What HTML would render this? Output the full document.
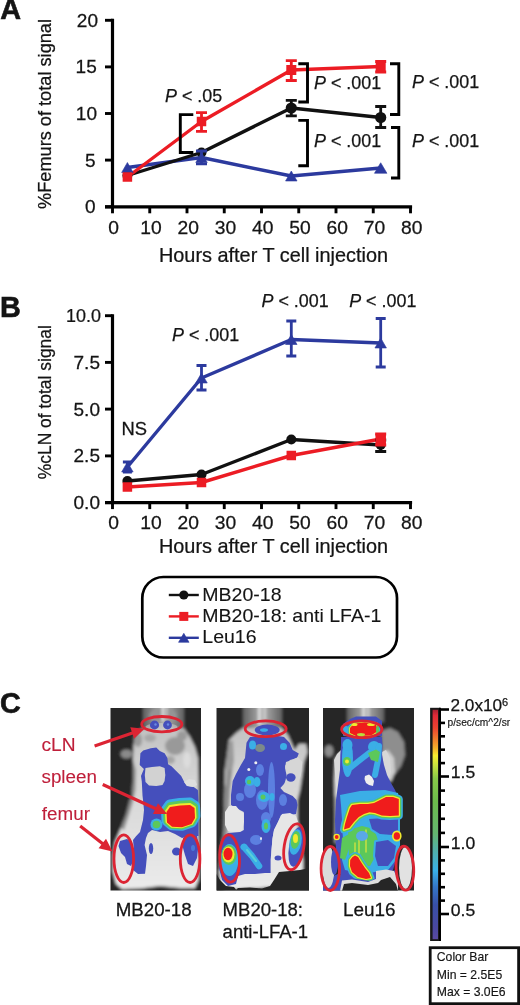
<!DOCTYPE html>
<html><head><meta charset="utf-8"><style>
html,body{margin:0;padding:0;background:#fff;}
svg{display:block;filter:blur(0.35px);}
text{font-family:"Liberation Sans",sans-serif;}
</style></head><body>
<svg width="520" height="1005" viewBox="0 0 520 1005">
<rect width="520" height="1005" fill="#fff"/>
<text x="0.2" y="19.4" font-size="28.8" font-weight="bold" fill="#141414" stroke="#141414" stroke-width="0.6">A</text>
<line x1="112.5" y1="18.8" x2="112.5" y2="208.3" stroke="#000" stroke-width="3.2"/>
<line x1="105" y1="206.8" x2="412.1" y2="206.8" stroke="#000" stroke-width="3.2"/>
<line x1="105" y1="20.3" x2="112.5" y2="20.3" stroke="#000" stroke-width="2.9"/>
<text x="98" y="26.8" font-size="18.5" fill="#141414" stroke="#141414" stroke-width="0.25" text-anchor="end" transform="matrix(1.03,0,0,1,-2.940,0)" >20</text>
<line x1="105" y1="66.9" x2="112.5" y2="66.9" stroke="#000" stroke-width="2.9"/>
<text x="96.8" y="73.4" font-size="18.5" fill="#141414" stroke="#141414" stroke-width="0.25" text-anchor="end" transform="matrix(1.03,0,0,1,-2.904,0)" >15</text>
<line x1="105" y1="113.5" x2="112.5" y2="113.5" stroke="#000" stroke-width="2.9"/>
<text x="97" y="120.0" font-size="18.5" fill="#141414" stroke="#141414" stroke-width="0.25" text-anchor="end" transform="matrix(1.03,0,0,1,-2.910,0)" >10</text>
<line x1="105" y1="160.1" x2="112.5" y2="160.1" stroke="#000" stroke-width="2.9"/>
<text x="95.7" y="166.6" font-size="18.5" fill="#141414" stroke="#141414" stroke-width="0.25" text-anchor="end" transform="matrix(1.03,0,0,1,-2.871,0)" >5</text>
<line x1="105" y1="206.8" x2="112.5" y2="206.8" stroke="#000" stroke-width="2.9"/>
<text x="95.7" y="213.3" font-size="18.5" fill="#141414" stroke="#141414" stroke-width="0.25" text-anchor="end" transform="matrix(1.03,0,0,1,-2.871,0)" >0</text>
<line x1="112.5" y1="206.8" x2="112.5" y2="213.3" stroke="#000" stroke-width="2.9"/>
<text x="113.7" y="234" font-size="18.2" fill="#141414" stroke="#141414" stroke-width="0.25" text-anchor="middle" transform="matrix(1.06,0,0,1,-6.822,0)" >0</text>
<line x1="149.75" y1="206.8" x2="149.75" y2="213.3" stroke="#000" stroke-width="2.9"/>
<text x="150.95" y="234" font-size="18.2" fill="#141414" stroke="#141414" stroke-width="0.25" text-anchor="middle" transform="matrix(1.06,0,0,1,-9.057,0)" >10</text>
<line x1="187.0" y1="206.8" x2="187.0" y2="213.3" stroke="#000" stroke-width="2.9"/>
<text x="188.2" y="234" font-size="18.2" fill="#141414" stroke="#141414" stroke-width="0.25" text-anchor="middle" transform="matrix(1.06,0,0,1,-11.292,0)" >20</text>
<line x1="224.25" y1="206.8" x2="224.25" y2="213.3" stroke="#000" stroke-width="2.9"/>
<text x="225.45" y="234" font-size="18.2" fill="#141414" stroke="#141414" stroke-width="0.25" text-anchor="middle" transform="matrix(1.06,0,0,1,-13.527,0)" >30</text>
<line x1="261.5" y1="206.8" x2="261.5" y2="213.3" stroke="#000" stroke-width="2.9"/>
<text x="262.7" y="234" font-size="18.2" fill="#141414" stroke="#141414" stroke-width="0.25" text-anchor="middle" transform="matrix(1.06,0,0,1,-15.762,0)" >40</text>
<line x1="298.75" y1="206.8" x2="298.75" y2="213.3" stroke="#000" stroke-width="2.9"/>
<text x="299.95" y="234" font-size="18.2" fill="#141414" stroke="#141414" stroke-width="0.25" text-anchor="middle" transform="matrix(1.06,0,0,1,-17.997,0)" >50</text>
<line x1="336.0" y1="206.8" x2="336.0" y2="213.3" stroke="#000" stroke-width="2.9"/>
<text x="337.2" y="234" font-size="18.2" fill="#141414" stroke="#141414" stroke-width="0.25" text-anchor="middle" transform="matrix(1.06,0,0,1,-20.232,0)" >60</text>
<line x1="373.25" y1="206.8" x2="373.25" y2="213.3" stroke="#000" stroke-width="2.9"/>
<text x="374.45" y="234" font-size="18.2" fill="#141414" stroke="#141414" stroke-width="0.25" text-anchor="middle" transform="matrix(1.06,0,0,1,-22.467,0)" >70</text>
<line x1="410.5" y1="206.8" x2="410.5" y2="213.3" stroke="#000" stroke-width="2.9"/>
<text x="411.7" y="234" font-size="18.2" fill="#141414" stroke="#141414" stroke-width="0.25" text-anchor="middle" transform="matrix(1.06,0,0,1,-24.702,0)" >80</text>
<text x="273.5" y="262" font-size="19.6" fill="#141414" stroke="#141414" stroke-width="0.25" text-anchor="middle" transform="matrix(1.015,0,0,1,-4.102,0)" >Hours after T cell injection</text>
<text transform="translate(50.9,114) rotate(-90)" font-size="18.2" fill="#141414" stroke="#141414" stroke-width="0.25" text-anchor="middle">%Femurs of total signal</text>
<path d="M127.4,167.5 L201.5,157.5 L291.3,176 L380.7,168" stroke="#2c3a9e" stroke-width="3.4" fill="none" stroke-linejoin="round"/>
<path d="M127.4,175.5 L201.5,152.5 L291.3,108 L380.7,117.5" stroke="#111" stroke-width="3.4" fill="none" stroke-linejoin="round"/>
<path d="M127.4,177 L201.5,121.5 L291.3,70 L380.7,66.5" stroke="#ec1c24" stroke-width="3.4" fill="none" stroke-linejoin="round"/>
<path d="M291.3,100.3 V115.8 M285.8,100.3 H296.8 M285.8,115.8 H296.8" stroke="#111" stroke-width="2.8" fill="none"/>
<path d="M380.7,106.5 V127.5 M375.2,106.5 H386.2 M375.2,127.5 H386.2" stroke="#111" stroke-width="2.8" fill="none"/>
<circle cx="127.4" cy="175.5" r="5" fill="#111"/>
<circle cx="201.5" cy="152.5" r="5" fill="#111"/>
<circle cx="291.3" cy="108" r="5.6" fill="#111"/>
<circle cx="380.7" cy="117.5" r="5.6" fill="#111"/>
<path d="M201.5,151 V163.8 M196.0,151 H207.0 M196.0,163.8 H207.0" stroke="#2c3a9e" stroke-width="2.8" fill="none"/>
<path d="M121.65,172.5 L133.15,172.5 L127.4,162.5 Z" fill="#2c3a9e" stroke="#2c3a9e" stroke-width="0.6" stroke-linejoin="round"/>
<path d="M195.75,162.5 L207.25,162.5 L201.5,152.5 Z" fill="#2c3a9e" stroke="#2c3a9e" stroke-width="0.6" stroke-linejoin="round"/>
<path d="M285.55,181.0 L297.05,181.0 L291.3,171.0 Z" fill="#2c3a9e" stroke="#2c3a9e" stroke-width="0.6" stroke-linejoin="round"/>
<path d="M374.45,173.25 L386.95,173.25 L380.7,162.75 Z" fill="#2c3a9e" stroke="#2c3a9e" stroke-width="0.6" stroke-linejoin="round"/>
<path d="M201.5,112.7 V131.4 M196.0,112.7 H207.0 M196.0,131.4 H207.0" stroke="#ec1c24" stroke-width="2.8" fill="none"/>
<path d="M291.3,60.7 V80.5 M285.8,60.7 H296.8 M285.8,80.5 H296.8" stroke="#ec1c24" stroke-width="2.8" fill="none"/>
<path d="M380.7,61.5 V72 M375.2,61.5 H386.2 M375.2,72 H386.2" stroke="#ec1c24" stroke-width="2.8" fill="none"/>
<rect x="122.65" y="172.25" width="9.5" height="9.5" fill="#ec1c24"/>
<rect x="196.75" y="116.75" width="9.5" height="9.5" fill="#ec1c24"/>
<rect x="286.3" y="65.0" width="10" height="10" fill="#ec1c24"/>
<rect x="375.7" y="61.5" width="10" height="10" fill="#ec1c24"/>
<path d="M193.3,114.6 H180.3 V152.5 H193.3" stroke="#000" stroke-width="2.9" fill="none"/>
<path d="M298.3,63.8 H307.5 V102 H298.3" stroke="#000" stroke-width="2.9" fill="none"/>
<path d="M298.3,120.4 H307.5 V165.8 H298.3" stroke="#000" stroke-width="2.9" fill="none"/>
<path d="M390,63.8 H398.8 V114.5 H390" stroke="#000" stroke-width="2.9" fill="none"/>
<path d="M391,127.5 H398.8 V178 H391" stroke="#000" stroke-width="2.9" fill="none"/>
<text x="165" y="101.5" font-size="17.9" fill="#141414" stroke="#141414" stroke-width="0.25"><tspan font-style="italic">P</tspan> &lt; .05</text>
<text x="314" y="88.5" font-size="17.9" fill="#141414" stroke="#141414" stroke-width="0.25"><tspan font-style="italic">P</tspan> &lt; .001</text>
<text x="314" y="146.5" font-size="17.9" fill="#141414" stroke="#141414" stroke-width="0.25"><tspan font-style="italic">P</tspan> &lt; .001</text>
<text x="412" y="88" font-size="17.9" fill="#141414" stroke="#141414" stroke-width="0.25"><tspan font-style="italic">P</tspan> &lt; .001</text>
<text x="412" y="147" font-size="17.9" fill="#141414" stroke="#141414" stroke-width="0.25"><tspan font-style="italic">P</tspan> &lt; .001</text>
<text x="0" y="317.1" font-size="28.8" font-weight="bold" fill="#141414" stroke="#141414" stroke-width="0.6">B</text>
<line x1="112.5" y1="314.2" x2="112.5" y2="504.1" stroke="#000" stroke-width="3.2"/>
<line x1="105" y1="502.6" x2="412.1" y2="502.6" stroke="#000" stroke-width="3.2"/>
<line x1="105" y1="315.7" x2="112.5" y2="315.7" stroke="#000" stroke-width="2.9"/>
<text x="101" y="322.2" font-size="18.5" fill="#141414" stroke="#141414" stroke-width="0.25" text-anchor="end" transform="matrix(0.97,0,0,1,3.030,0)" >10.0</text>
<line x1="105" y1="362.4" x2="112.5" y2="362.4" stroke="#000" stroke-width="2.9"/>
<text x="100" y="368.9" font-size="18.5" fill="#141414" stroke="#141414" stroke-width="0.25" text-anchor="end" transform="matrix(1.03,0,0,1,-3.000,0)" >7.5</text>
<line x1="105" y1="409.1" x2="112.5" y2="409.1" stroke="#000" stroke-width="2.9"/>
<text x="100" y="415.6" font-size="18.5" fill="#141414" stroke="#141414" stroke-width="0.25" text-anchor="end" transform="matrix(1.03,0,0,1,-3.000,0)" >5.0</text>
<line x1="105" y1="455.9" x2="112.5" y2="455.9" stroke="#000" stroke-width="2.9"/>
<text x="100" y="462.4" font-size="18.5" fill="#141414" stroke="#141414" stroke-width="0.25" text-anchor="end" transform="matrix(1.03,0,0,1,-3.000,0)" >2.5</text>
<line x1="105" y1="502.6" x2="112.5" y2="502.6" stroke="#000" stroke-width="2.9"/>
<text x="100" y="509.1" font-size="18.5" fill="#141414" stroke="#141414" stroke-width="0.25" text-anchor="end" transform="matrix(1.03,0,0,1,-3.000,0)" >0.0</text>
<line x1="112.5" y1="502.6" x2="112.5" y2="509.1" stroke="#000" stroke-width="2.9"/>
<text x="113.7" y="529.3" font-size="18.2" fill="#141414" stroke="#141414" stroke-width="0.25" text-anchor="middle" transform="matrix(1.06,0,0,1,-6.822,0)" >0</text>
<line x1="149.75" y1="502.6" x2="149.75" y2="509.1" stroke="#000" stroke-width="2.9"/>
<text x="150.95" y="529.3" font-size="18.2" fill="#141414" stroke="#141414" stroke-width="0.25" text-anchor="middle" transform="matrix(1.06,0,0,1,-9.057,0)" >10</text>
<line x1="187.0" y1="502.6" x2="187.0" y2="509.1" stroke="#000" stroke-width="2.9"/>
<text x="188.2" y="529.3" font-size="18.2" fill="#141414" stroke="#141414" stroke-width="0.25" text-anchor="middle" transform="matrix(1.06,0,0,1,-11.292,0)" >20</text>
<line x1="224.25" y1="502.6" x2="224.25" y2="509.1" stroke="#000" stroke-width="2.9"/>
<text x="225.45" y="529.3" font-size="18.2" fill="#141414" stroke="#141414" stroke-width="0.25" text-anchor="middle" transform="matrix(1.06,0,0,1,-13.527,0)" >30</text>
<line x1="261.5" y1="502.6" x2="261.5" y2="509.1" stroke="#000" stroke-width="2.9"/>
<text x="262.7" y="529.3" font-size="18.2" fill="#141414" stroke="#141414" stroke-width="0.25" text-anchor="middle" transform="matrix(1.06,0,0,1,-15.762,0)" >40</text>
<line x1="298.75" y1="502.6" x2="298.75" y2="509.1" stroke="#000" stroke-width="2.9"/>
<text x="299.95" y="529.3" font-size="18.2" fill="#141414" stroke="#141414" stroke-width="0.25" text-anchor="middle" transform="matrix(1.06,0,0,1,-17.997,0)" >50</text>
<line x1="336.0" y1="502.6" x2="336.0" y2="509.1" stroke="#000" stroke-width="2.9"/>
<text x="337.2" y="529.3" font-size="18.2" fill="#141414" stroke="#141414" stroke-width="0.25" text-anchor="middle" transform="matrix(1.06,0,0,1,-20.232,0)" >60</text>
<line x1="373.25" y1="502.6" x2="373.25" y2="509.1" stroke="#000" stroke-width="2.9"/>
<text x="374.45" y="529.3" font-size="18.2" fill="#141414" stroke="#141414" stroke-width="0.25" text-anchor="middle" transform="matrix(1.06,0,0,1,-22.467,0)" >70</text>
<line x1="410.5" y1="502.6" x2="410.5" y2="509.1" stroke="#000" stroke-width="2.9"/>
<text x="411.7" y="529.3" font-size="18.2" fill="#141414" stroke="#141414" stroke-width="0.25" text-anchor="middle" transform="matrix(1.06,0,0,1,-24.702,0)" >80</text>
<text x="273.5" y="553.1" font-size="19.6" fill="#141414" stroke="#141414" stroke-width="0.25" text-anchor="middle" transform="matrix(1.015,0,0,1,-4.102,0)" >Hours after T cell injection</text>
<text transform="translate(50.9,402.2) rotate(-90)" font-size="17.45" fill="#141414" stroke="#141414" stroke-width="0.25" text-anchor="middle">%cLN of total signal</text>
<path d="M127.4,481 L201.5,474.5 L291.3,439.5 L380.7,445" stroke="#111" stroke-width="3.4" fill="none" stroke-linejoin="round"/>
<path d="M127.4,487 L201.5,482.5 L291.3,455.5 L380.7,439" stroke="#ec1c24" stroke-width="3.4" fill="none" stroke-linejoin="round"/>
<path d="M127.4,467 L201.5,378 L291.3,339.5 L380.7,343" stroke="#2c3a9e" stroke-width="3.4" fill="none" stroke-linejoin="round"/>
<path d="M380.7,440 V451.5 M375.2,440 H386.2 M375.2,451.5 H386.2" stroke="#111" stroke-width="2.8" fill="none"/>
<circle cx="127.4" cy="481" r="5" fill="#111"/>
<circle cx="201.5" cy="474.5" r="5" fill="#111"/>
<circle cx="291.3" cy="439.5" r="5" fill="#111"/>
<circle cx="380.7" cy="445" r="5" fill="#111"/>
<path d="M380.7,434 V445 M375.2,434 H386.2 M375.2,445 H386.2" stroke="#ec1c24" stroke-width="2.8" fill="none"/>
<rect x="122.65" y="482.25" width="9.5" height="9.5" fill="#ec1c24"/>
<rect x="196.75" y="477.75" width="9.5" height="9.5" fill="#ec1c24"/>
<rect x="286.55" y="450.75" width="9.5" height="9.5" fill="#ec1c24"/>
<rect x="375.45" y="433.75" width="10.5" height="10.5" fill="#ec1c24"/>
<path d="M127.4,462 V472 M122.9,462 H131.9 M122.9,472 H131.9" stroke="#2c3a9e" stroke-width="2.8" fill="none"/>
<path d="M201.5,365.5 V390 M196.5,365.5 H206.5 M196.5,390 H206.5" stroke="#2c3a9e" stroke-width="2.8" fill="none"/>
<path d="M291.3,321 V356 M286.3,321 H296.3 M286.3,356 H296.3" stroke="#2c3a9e" stroke-width="2.8" fill="none"/>
<path d="M380.7,318.5 V367 M375.7,318.5 H385.7 M375.7,367 H385.7" stroke="#2c3a9e" stroke-width="2.8" fill="none"/>
<path d="M121.65,472.0 L133.15,472.0 L127.4,462.0 Z" fill="#2c3a9e" stroke="#2c3a9e" stroke-width="0.6" stroke-linejoin="round"/>
<path d="M195.75,383.0 L207.25,383.0 L201.5,373.0 Z" fill="#2c3a9e" stroke="#2c3a9e" stroke-width="0.6" stroke-linejoin="round"/>
<path d="M285.55,344.5 L297.05,344.5 L291.3,334.5 Z" fill="#2c3a9e" stroke="#2c3a9e" stroke-width="0.6" stroke-linejoin="round"/>
<path d="M374.95,348.0 L386.45,348.0 L380.7,338.0 Z" fill="#2c3a9e" stroke="#2c3a9e" stroke-width="0.6" stroke-linejoin="round"/>
<text x="121.5" y="434.8" font-size="17.5" fill="#141414" stroke="#141414" stroke-width="0.25" transform="matrix(1.05,0,0,1,-6.075,0)" >NS</text>
<text x="172" y="340.8" font-size="17.9" fill="#141414" stroke="#141414" stroke-width="0.25"><tspan font-style="italic">P</tspan> &lt; .001</text>
<text x="261.5" y="307.2" font-size="17.9" fill="#141414" stroke="#141414" stroke-width="0.25"><tspan font-style="italic">P</tspan> &lt; .001</text>
<text x="349.2" y="307.2" font-size="17.9" fill="#141414" stroke="#141414" stroke-width="0.25"><tspan font-style="italic">P</tspan> &lt; .001</text>
<rect x="142.3" y="577" width="254.7" height="80.5" rx="21" ry="21" fill="none" stroke="#000" stroke-width="2.7"/>
<line x1="168.8" y1="595.0" x2="198.8" y2="595.0" stroke="#111" stroke-width="2.4"/>
<circle cx="183.8" cy="595.0" r="4.6" fill="#111"/>
<text x="202.3" y="600.6" font-size="18.6" fill="#141414" stroke="#141414" stroke-width="0.1" transform="matrix(1.05,0,0,1,-10.115,0)" >MB20-18</text>
<line x1="168.8" y1="616.4" x2="198.8" y2="616.4" stroke="#ec1c24" stroke-width="2.4"/>
<rect x="179.3" y="611.9" width="9" height="9" fill="#ec1c24"/>
<text x="202.3" y="622.0" font-size="18.6" fill="#141414" stroke="#141414" stroke-width="0.1" transform="matrix(1.05,0,0,1,-10.115,0)" >MB20-18: anti LFA-1</text>
<line x1="168.8" y1="637.8" x2="198.8" y2="637.8" stroke="#2c3a9e" stroke-width="2.4"/>
<path d="M178.55,642.3 L189.05,642.3 L183.8,633.3 Z" fill="#2c3a9e" stroke="#2c3a9e" stroke-width="0.6" stroke-linejoin="round"/>
<text x="202.3" y="643.4" font-size="18.6" fill="#141414" stroke="#141414" stroke-width="0.1" transform="matrix(1.05,0,0,1,-10.115,0)" >Leu16</text>
<text x="0" y="712.5" font-size="28.8" font-weight="bold" fill="#141414" stroke="#141414" stroke-width="0.6">C</text>
<text x="41.5" y="751.4" font-size="17.6" fill="#bf1f3a" stroke="#bf1f3a" stroke-width="0.1" transform="matrix(1.09,0,0,1,-3.735,0)" >cLN</text>
<text x="41.5" y="783.4" font-size="17.6" fill="#bf1f3a" stroke="#bf1f3a" stroke-width="0.1" transform="matrix(1.07,0,0,1,-2.905,0)" >spleen</text>
<text x="41.8" y="819.6" font-size="17.6" fill="#bf1f3a" stroke="#bf1f3a" stroke-width="0.1" transform="matrix(1.07,0,0,1,-2.926,0)" >femur</text>
<clipPath id="c0"><rect x="110.5" y="708" width="90.5" height="182.5"/></clipPath>
<clipPath id="c1"><rect x="216.5" y="708" width="92.5" height="182.5"/></clipPath>
<clipPath id="c2"><rect x="323" y="708" width="91" height="182.5"/></clipPath>
<filter id="bl" x="-5%" y="-5%" width="110%" height="110%"><feGaussianBlur stdDeviation="0.7"/></filter>
<filter id="blb" x="-5%" y="-5%" width="110%" height="110%"><feGaussianBlur stdDeviation="1.4"/></filter>
<clipPath id="call"><rect x="110.5" y="708" width="90.5" height="182.5"/><rect x="216.5" y="708" width="92.5" height="182.5"/><rect x="323" y="708" width="91" height="182.5"/></clipPath>
<g clip-path="url(#call)"><g filter="url(#blb)"><defs><linearGradient id="bodyg" gradientUnits="userSpaceOnUse" x1="0" y1="728" x2="0" y2="890"><stop offset="0" stop-color="#c2c2c2"/><stop offset="0.35" stop-color="#d6d6d6"/><stop offset="1" stop-color="#ebebeb"/></linearGradient><linearGradient id="headg" x1="0" y1="0" x2="1" y2="0"><stop offset="0" stop-color="#606060"/><stop offset="0.5" stop-color="#b4b4b4"/><stop offset="1" stop-color="#606060"/></linearGradient></defs><rect x="105.5" y="703" width="100.5" height="192.5" fill="#252525" /><rect x="143" y="703" width="41" height="29" fill="url(#headg)" /><ellipse cx="163" cy="716" rx="14" ry="8" fill="#959595" /><rect x="162" y="703" width="1.8" height="19" fill="#f2f2f2" /><rect x="165.8" y="703" width="1.5" height="17" fill="#d8d8d8" /><path d="M141,729 L184,728.5 L190,737 L195,747 L198,758 L198.5,780 L198.5,830 L199.5,860 L198.5,880 L195,888 L180,888 L160,886 L140,888.5 L122,889 L116,884 L113,872 L113,855 L115,842 L120,830 L126,815 L130,800 L132,797 L133,780 L133,760 L133.5,745 L136,734 Z" fill="url(#bodyg)" /><path d="M133,760 L133,780 L132,797 L130,800 L126,815 L121,828 L124,830 L129,815 L133,802 L135.5,790 L136,770 Z" fill="#8d8d8d" /><ellipse cx="126.5" cy="754" rx="6" ry="4.5" fill="#8a8a8a" /><ellipse cx="175" cy="746" rx="10" ry="9" fill="#999" /><ellipse cx="182" cy="736" rx="5" ry="5" fill="#9a9a9a" /><ellipse cx="170" cy="760" rx="5" ry="4" fill="#a5a5a5" /><ellipse cx="138" cy="740" rx="4" ry="7" fill="#9a9a9a" /><ellipse cx="150" cy="738" rx="6" ry="4" fill="#a8a8a8" /><ellipse cx="187" cy="760" rx="4" ry="8" fill="#dcdcdc" /><ellipse cx="190" cy="800" rx="5" ry="12" fill="#e2e2e2" /><rect x="211.5" y="703" width="102.5" height="192.5" fill="#252525" /><rect x="243" y="703" width="39" height="27" fill="url(#headg)" /><rect x="258.3" y="703" width="2" height="22" fill="#f2f2f2" /><rect x="264" y="703" width="1.8" height="17" fill="#d8d8d8" /><path d="M243,728 L236,733 L229,740 L227,755 L225,770 L224.6,790 L224,810 L223.7,830 L221,850 L219,870 L220,884 L225,889 L240,889 L260,888 L280,886 L300,880 L303,872 L303,860 L300,840 L297.5,820 L297.5,800 L300,790 L302.3,775 L304,762 L307.6,752 L306,744 L299,744 L294.6,750 L288,735 L282,728 Z" fill="url(#bodyg)" /><path d="M229,742 L233,740 L234,760 L231,780 L229,800 L226,800 L226,770 L227,755 Z" fill="#9a9a9a" /><path d="M224.6,790 L224,810 L223.7,830 L221,850 L219,870 L222,870 L226,850 L228,830 L229,810 L230,790 L232,770 L229,770 Z" fill="#8a8a8a" /><rect x="318" y="703" width="101" height="192.5" fill="#252525" /><rect x="347" y="703" width="37" height="19" fill="url(#headg)" /><rect x="362.5" y="703" width="1.8" height="16" fill="#f2f2f2" /><rect x="367.5" y="703" width="1.6" height="16" fill="#d8d8d8" /><path d="M381,731 L390,728 L398,732 L404,742 L405,755 L401,766 L395,774 L388,776 L382,768 Z" fill="#8e8e8e" /><path d="M383,752 L388,750 L394,758 L395,772 L391,782 L385,778 Z" fill="#cfcfcf" /><ellipse cx="329" cy="751" rx="4.5" ry="6" fill="#8c8c8c" /><path d="M335,758 L341,752 L341,800 L337,843 L334.5,843 L335,820 L334.5,800 L334,780 Z" fill="#a8a8a8" /><path d="M336,760 L341,756 L341,790 L338,800 L335,795 L335,775 Z" fill="#dcdcdc" /></g><g filter="url(#bl)"><path d="M140.4,753.2 L143.2,750.4 L150.8,748.3 L156.3,747.6 L159.8,751.1 L164.6,753.2 L167.4,758 L168.1,764.2 L171.5,766.3 L175.7,770.5 L181.2,776 L184,781.6 L186.8,785.7 L193.7,787.1 L197.9,789.9 L198.5,800 L198.5,836 L190,836 L182,838 L175,834 L168,831 L160,832 L152,830 L148,833 L146,838 L144.6,845 L147,855 L146,866 L145,873.7 L138,874 L133,870 L132.9,860 L134,850 L133,840 L136,836.3 L140,832 L143,820 L144,810 L143,800 L142.5,795.4 L141.8,781.6 L141,776 L143.9,769 L139.7,765 Z" fill="#4550bc" /><path d="M145.5,768 L152,767 L159.8,766.3 L164.6,768 L165.3,775 L164.6,781 L162.5,785 L156.3,786 L149,785.5 L145.5,782 L144.8,775 Z" fill="#d2d2d2" /><path d="M184,782 L189,779 L195,780 L197,785 L193,787 L187,786 Z" fill="#dedede" /><path d="M120,841 L127,839 L132,842 L133.5,850 L133.5,860 L131,866 L127,864 L125,857 L121,853 L118.5,846 Z" fill="#4550bc" /><path d="M183,838 L190,835 L197,836 L198.5,845 L197,858 L193,866 L188,864 L185,855 L183,848 Z" fill="#4550bc" /><ellipse cx="193" cy="848" rx="2" ry="3" fill="#4a78d8" /><ellipse cx="176.5" cy="851.5" rx="4.5" ry="4" fill="#4550bc" /><ellipse cx="151" cy="848.5" rx="2.2" ry="5.5" fill="#4550bc" /><path d="M166.5,812 L170,807 L180,805.5 L190,805 L194.5,808 L195,818 L191.5,824 L182,827.2 L172,826.8 L167,822.5 Z" fill="#3aaee6" stroke="#3aaee6" stroke-width="11" stroke-linejoin="round" transform="translate(0,-2.00)"/><path d="M166.5,812 L170,807 L180,805.5 L190,805 L194.5,808 L195,818 L191.5,824 L182,827.2 L172,826.8 L167,822.5 Z" fill="#5cc85a" stroke="#5cc85a" stroke-width="7" stroke-linejoin="round" transform="translate(0,-1.27)"/><path d="M166.5,812 L170,807 L180,805.5 L190,805 L194.5,808 L195,818 L191.5,824 L182,827.2 L172,826.8 L167,822.5 Z" fill="#f2ea2e" stroke="#f2ea2e" stroke-width="3" stroke-linejoin="round" transform="translate(0,-0.55)"/><path d="M166.5,812 L170,807 L180,805.5 L190,805 L194.5,808 L195,818 L191.5,824 L182,827.2 L172,826.8 L167,822.5 Z" fill="#f01c1c"/><ellipse cx="156.5" cy="824.5" rx="6" ry="6" fill="#3aaee6" /><ellipse cx="156.5" cy="824.5" rx="3.8" ry="3.8" fill="#5cc85a" /><ellipse cx="161.5" cy="727" rx="16" ry="4" fill="#d8d8d8" opacity="0.5"/><ellipse cx="154.5" cy="725" rx="4.6" ry="4.4" fill="#4550bc" /><ellipse cx="167.5" cy="725" rx="4.4" ry="4.4" fill="#4550bc" /><ellipse cx="155.5" cy="724.5" rx="1.2" ry="1.2" fill="#6a8ae0" /><ellipse cx="168" cy="724.5" rx="1.2" ry="1.2" fill="#6a8ae0" /><path d="M246.5,742.7 L250,737 L262,735.5 L275,735.5 L284,737 L289.6,742.7 L292.7,750 L298.8,753.5 L297,758 L290,760 L285,766 L286.5,770 L288,775 L286,780 L284,784 L280.4,788 L284,792 L292.7,796 L296.5,800 L297.5,805 L296,814 L290,815 L281,815 L278,822 L274,830 L272.5,838.5 L271.5,850 L270.6,860 L270.6,873 L265,873 L255,874 L245,874 L238,876 L236,884 L228,886 L222,880 L219,868 L219,850 L222,838 L228,833 L240,832 L243.8,830 L243.8,812 L236,808 L231,805 L231,795 L232.7,781 L236,774 L240.4,765.8 L245,758 Z" fill="#4550bc" /><ellipse cx="267.2" cy="730" rx="12.5" ry="5.4" fill="#4550bc" /><ellipse cx="260" cy="748" rx="5" ry="4" fill="#7d8a8a" /><path d="M229,806 L236,806 L240,811 L243.8,813 L244,822 L242,831 L236,832 L228,831 L225,825 L225,812 Z" fill="#e6e6e6" /><path d="M282,814 L290,813 L296,816 L298,822 L290,826 L286,835 L284,845 L284,872 L271,873 L271.5,850 L272.5,838.5 L274,830 L278,822 Z" fill="#e6e6e6" /><path d="M286,762 L292,760 L298,757 L302.3,762 L301,775 L297,786 L292,790 L284,789 L286.5,775 L285,768 Z" fill="#d6d6d6" /><ellipse cx="290.8" cy="777.5" rx="4.8" ry="4.2" fill="#4550bc" /><ellipse cx="278" cy="858" rx="3.5" ry="2.5" fill="#4550bc" /><ellipse cx="271.5" cy="790" rx="3.5" ry="28" fill="#5b7fe0" /><ellipse cx="262" cy="800" rx="6" ry="10" fill="#5b7fe0" /><ellipse cx="250" cy="790" rx="6" ry="8" fill="#5b7fe0" /><ellipse cx="283" cy="800" rx="4" ry="6" fill="#5b7fe0" /><ellipse cx="260" cy="770" rx="4" ry="6" fill="#5b7fe0" /><ellipse cx="266" cy="818" rx="5" ry="6" fill="#5b7fe0" /><ellipse cx="256" cy="840" rx="6" ry="5" fill="#5b7fe0" /><ellipse cx="240" cy="797" rx="4" ry="4" fill="#5b7fe0" /><ellipse cx="252.5" cy="745" rx="3.5" ry="4.5" fill="#3aaee6" /><ellipse cx="283.5" cy="746.5" rx="3.5" ry="3.5" fill="#3aaee6" /><ellipse cx="264" cy="730" rx="4" ry="1.8" fill="#3aaee6" /><ellipse cx="257" cy="782" rx="3.5" ry="5" fill="#3aaee6" /><ellipse cx="250" cy="781" rx="5" ry="5" fill="#3aaee6" /><ellipse cx="264" cy="797" rx="6" ry="5" fill="#3aaee6" /><ellipse cx="266" cy="826" rx="4.5" ry="7" fill="#3aaee6" /><ellipse cx="244" cy="847" rx="3.5" ry="3" fill="#3aaee6" /><ellipse cx="272" cy="797" rx="2.5" ry="4" fill="#3aaee6" /><path d="M244,847 L252,856 L259,866" fill="none" stroke="#3aaee6" stroke-width="6.5" stroke-linecap="round" stroke-linejoin="round"/><path d="M247,850 L256,861" fill="none" stroke="#58d0d8" stroke-width="2" stroke-linecap="round" stroke-linejoin="round"/><ellipse cx="249" cy="782" rx="2.2" ry="2.2" fill="#5cc85a" /><ellipse cx="263" cy="797" rx="2.5" ry="2.5" fill="#5cc85a" /><ellipse cx="266" cy="826" rx="2" ry="3.5" fill="#5cc85a" /><ellipse cx="255.8" cy="762.7" rx="1.5" ry="1.5" fill="#f0f0f0" /><ellipse cx="248.8" cy="769.6" rx="1.5" ry="1.5" fill="#f0f0f0" /><ellipse cx="261" cy="838.5" rx="1" ry="1.5" fill="#f0f0f0" /><ellipse cx="229.5" cy="860" rx="9" ry="16" fill="#3aaee6" /><ellipse cx="229" cy="855" rx="7.5" ry="10" fill="#5cc85a" /><ellipse cx="228.5" cy="854.5" rx="6" ry="8" fill="#f2ea2e" /><ellipse cx="228" cy="854" rx="4.5" ry="6.2" fill="#f01c1c" /><ellipse cx="296.5" cy="847" rx="7.5" ry="20" fill="#4550bc" transform="rotate(10 296.5 847)"/><ellipse cx="295.5" cy="842" rx="6" ry="13" fill="#3aaee6" transform="rotate(10 295.5 842)"/><ellipse cx="295.5" cy="840" rx="4.5" ry="9" fill="#5cc85a" transform="rotate(10 295.5 840)"/><ellipse cx="295.5" cy="838.5" rx="2.5" ry="4.5" fill="#f2ea2e" /><path d="M279,872 L290,871 L300,870 L310,868 L310,891 L235,891 L238,888 L250,887.5 L262,888.5 L270,886 L274,880 Z" fill="#252525" /><path d="M216.5,874 L220,880 L226,886 L234,887 L237,891 L216.5,891 Z" fill="#252525" /><path d="M334,760 L337,754 L341,750 L341,800 L338.5,806 L337,800 L335.5,780 Z" fill="#dadada" /><path d="M382,752 L386,750 L390,758 L391,772 L388,782 L384,778 Z" fill="#d8d8d8" /><path d="M341,737 L382,737 L382.5,745 L382,755 L384,765 L387,775 L391,783 L395,790 L398,797 L400,805 L400,840 L398.5,845 L396,860 L393,870 L385,878 L370,881 L355,881 L342,878 L338,870 L336,850 L335.5,840 L335,820 L336,800 L338,785 L340,770 L340.3,755 L341,745 Z" fill="#4550bc" /><path d="M343,724 L350,719 L356,716.5 L376,716.5 L382,721 L382,736 L362,738.5 L343,736 Z" fill="#4550bc" /><ellipse cx="346" cy="731" rx="4" ry="5" fill="#3aaee6" /><path d="M350,728 L354,723.5 L365,722.5 L376,724.5 L378,731 L371,735.5 L356,736 L350,733 Z" fill="#3aaee6" stroke="#3aaee6" stroke-width="5" stroke-linejoin="round"/><path d="M350,728 L354,723.5 L365,722.5 L376,724.5 L378,731 L371,735.5 L356,736 L350,733 Z" fill="#5cc85a" stroke="#5cc85a" stroke-width="3" stroke-linejoin="round"/><path d="M350,728 L354,723.5 L365,722.5 L376,724.5 L378,731 L371,735.5 L356,736 L350,733 Z" fill="#f2ea2e" stroke="#f2ea2e" stroke-width="1.5" stroke-linejoin="round"/><path d="M350,728 L354,723.5 L365,722.5 L376,724.5 L378,731 L371,735.5 L356,736 L350,733 Z" fill="#f01c1c"/><ellipse cx="354.5" cy="724.5" rx="3" ry="1.6" fill="#f2ea2e" /><ellipse cx="371" cy="724.5" rx="4" ry="1.6" fill="#f2ea2e" /><ellipse cx="361" cy="734.5" rx="4" ry="1.5" fill="#b8e040" /><ellipse cx="377.5" cy="730" rx="1.5" ry="4" fill="#5cc85a" /><ellipse cx="347.5" cy="758" rx="5.5" ry="19" fill="#3aaee6" /><ellipse cx="347.5" cy="745" rx="5" ry="6" fill="#3aaee6" /><ellipse cx="374" cy="747" rx="6" ry="6" fill="#3aaee6" /><path d="M350,768 L360,760 L369,753" fill="none" stroke="#3aaee6" stroke-width="6" stroke-linecap="round" stroke-linejoin="round"/><path d="M379,746 L378,760 L375,775" fill="none" stroke="#3aaee6" stroke-width="6" stroke-linecap="round" stroke-linejoin="round"/><path d="M368,753 L376,749.5 L380,752 L378,762 L371,760 Z" fill="#5cc85a" /><ellipse cx="347" cy="761.4" rx="4" ry="4.5" fill="#5cc85a" /><ellipse cx="347" cy="761.4" rx="2" ry="2" fill="#f2ea2e" /><path d="M365,776 L369,774.5 L372,777 L374,781 L373,786 L369,785 L366,783 L364.5,779 Z" fill="#eeeeee" /><path d="M340,795 L360,791 L385,790 L398,793 L400,805 L400,845 L396,860 L388,870 L375,872 L365,874 L345,870 L342,860 L343,840 L342,820 L341,805 Z" fill="#3aaee6" /><path d="M348,830 L362,826 L374,829 L378,840 L376,855 L370,866 L356,866 L349,855 Z" fill="#5cc85a" /><path d="M376,842 L388,840 L396,846 L394,858 L388,866 L378,866 L375,856 Z" fill="#3aaee6" stroke="#3aaee6" stroke-width="4" stroke-linejoin="round"/><path d="M376,842 L388,840 L396,846 L394,858 L388,866 L378,866 L375,856 Z" fill="#4550bc"/><path d="M342,838 L349,834 L350,846 L345,860 L340,858 Z" fill="#5cc85a" /><path d="M359,835 L359,858" fill="none" stroke="#c8e040" stroke-width="1.5" stroke-linecap="round" stroke-linejoin="round"/><path d="M366,830 L366,852" fill="none" stroke="#c8e040" stroke-width="1.5" stroke-linecap="round" stroke-linejoin="round"/><path d="M355,843 L355,860" fill="none" stroke="#c8e040" stroke-width="1.5" stroke-linecap="round" stroke-linejoin="round"/><path d="M369,819 L385,818 L398,817 L398,830 L392,835 L380,834 L372,829 Z" fill="#3aaee6" stroke="#3aaee6" stroke-width="4" stroke-linejoin="round"/><path d="M369,819 L385,818 L398,817 L398,830 L392,835 L380,834 L372,829 Z" fill="#4550bc"/><ellipse cx="362" cy="836" rx="6" ry="5" fill="#5aa8e8" /><path d="M344,829.5 L345,824 L347,817 L350,808 L352,805 L360,804 L368,804 L374,803 L380,800 L386,797 L393,797 L398.8,799 L398.8,815.4 L390,816 L381.8,815.4 L375,813 L369.5,812.3 L364,814 L358.8,817 L354,822 L349.5,827.7 Z" fill="#3aaee6" stroke="#3aaee6" stroke-width="8" stroke-linejoin="round"/><path d="M344,829.5 L345,824 L347,817 L350,808 L352,805 L360,804 L368,804 L374,803 L380,800 L386,797 L393,797 L398.8,799 L398.8,815.4 L390,816 L381.8,815.4 L375,813 L369.5,812.3 L364,814 L358.8,817 L354,822 L349.5,827.7 Z" fill="#5cc85a" stroke="#5cc85a" stroke-width="5" stroke-linejoin="round"/><path d="M344,829.5 L345,824 L347,817 L350,808 L352,805 L360,804 L368,804 L374,803 L380,800 L386,797 L393,797 L398.8,799 L398.8,815.4 L390,816 L381.8,815.4 L375,813 L369.5,812.3 L364,814 L358.8,817 L354,822 L349.5,827.7 Z" fill="#f2ea2e" stroke="#f2ea2e" stroke-width="2.5" stroke-linejoin="round"/><path d="M344,829.5 L345,824 L347,817 L350,808 L352,805 L360,804 L368,804 L374,803 L380,800 L386,797 L393,797 L398.8,799 L398.8,815.4 L390,816 L381.8,815.4 L375,813 L369.5,812.3 L364,814 L358.8,817 L354,822 L349.5,827.7 Z" fill="#f01c1c"/><ellipse cx="336.7" cy="837" rx="3.2" ry="3.2" fill="#f2ea2e" /><ellipse cx="336.7" cy="837" rx="1.9" ry="1.9" fill="#f01c1c" /><ellipse cx="396.8" cy="836" rx="4.8" ry="5.5" fill="#f2ea2e" /><ellipse cx="396.8" cy="836" rx="3.2" ry="3.8" fill="#f01c1c" /><path d="M352.5,857 L355,855.5 L358,857 L361,862 L365,868 L369,873 L371,878 L366,879 L358,877 L352,872 L350,866 L350.2,860 Z" fill="#3aaee6" stroke="#3aaee6" stroke-width="7" stroke-linejoin="round"/><path d="M352.5,857 L355,855.5 L358,857 L361,862 L365,868 L369,873 L371,878 L366,879 L358,877 L352,872 L350,866 L350.2,860 Z" fill="#5cc85a" stroke="#5cc85a" stroke-width="4.5" stroke-linejoin="round"/><path d="M352.5,857 L355,855.5 L358,857 L361,862 L365,868 L369,873 L371,878 L366,879 L358,877 L352,872 L350,866 L350.2,860 Z" fill="#f2ea2e" stroke="#f2ea2e" stroke-width="2.2" stroke-linejoin="round"/><path d="M352.5,857 L355,855.5 L358,857 L361,862 L365,868 L369,873 L371,878 L366,879 L358,877 L352,872 L350,866 L350.2,860 Z" fill="#f01c1c"/><path d="M338,874 L350,878 L370,881 L376,878 L388,872 L396,870 L398,880 L398,891 L323,891 L323,880 Z" fill="#4550bc" /><path d="M342,880.5 L352,879.5 L368,882 L376,879 L376,871 L386,869.5 L394,871 L398,880 L398,891 L340,891 Z" fill="#dedede" /><path d="M344,884 L352,883 L368,885 L378,883 L381,880 L390,877 L396,884 L398,891 L342,891 Z" fill="#252525" /><ellipse cx="328.5" cy="867" rx="6" ry="21" fill="#dadada" /><ellipse cx="334.5" cy="862" rx="3.5" ry="13" fill="#4550bc" /><ellipse cx="405.5" cy="868" rx="6.5" ry="21" fill="#e2e2e2" /></g></g>
<ellipse cx="161.8" cy="724.2" rx="20.1" ry="7.7" transform="rotate(0 161.8 724.2)" fill="none" stroke="#dc2433" stroke-width="2.8"/>
<ellipse cx="123.75" cy="858.7" rx="9.8" ry="23.8" transform="rotate(0 123.75 858.7)" fill="none" stroke="#dc2433" stroke-width="2.8"/>
<ellipse cx="190.1" cy="858.7" rx="9.8" ry="23.8" transform="rotate(0 190.1 858.7)" fill="none" stroke="#dc2433" stroke-width="2.8"/>
<ellipse cx="265.7" cy="728.8" rx="20.5" ry="7.9" transform="rotate(0 265.7 728.8)" fill="none" stroke="#dc2433" stroke-width="2.8"/>
<ellipse cx="229.6" cy="858.5" rx="9.8" ry="23.6" transform="rotate(-3 229.6 858.5)" fill="none" stroke="#dc2433" stroke-width="2.8"/>
<ellipse cx="294" cy="846.8" rx="9.8" ry="23.2" transform="rotate(9 294 846.8)" fill="none" stroke="#dc2433" stroke-width="2.8"/>
<ellipse cx="361.8" cy="729.3" rx="20.2" ry="8.4" transform="rotate(0 361.8 729.3)" fill="none" stroke="#dc2433" stroke-width="2.8"/>
<ellipse cx="330.3" cy="868.5" rx="9.2" ry="22" transform="rotate(0 330.3 868.5)" fill="none" stroke="#dc2433" stroke-width="2.8"/>
<ellipse cx="404.9" cy="868.2" rx="8.8" ry="22" transform="rotate(-3 404.9 868.2)" fill="none" stroke="#dc2433" stroke-width="2.8"/>
<line x1="94.6" y1="745.9" x2="133.14805055169333" y2="732.6901470053315" stroke="#dc2433" stroke-width="3.2"/>
<path d="M144.5,728.8 L134.1471282670002,738.6903006465958 L130.25698126166867,727.3383511982892 Z" fill="#dc2433"/>
<line x1="102.7" y1="784.5" x2="156.38429911681098" y2="809.0152759124755" stroke="#dc2433" stroke-width="3.2"/>
<path d="M167.3,814 L152.98229533278302,814.0577326801097 L157.96701942030742,803.1420317969207 Z" fill="#dc2433"/>
<line x1="80.2" y1="826" x2="103.08140681359889" y2="844.0642685370517" stroke="#dc2433" stroke-width="3.2"/>
<path d="M112.5,851.5 L98.57865831659134,848.1539208416732 L106.01438977953958,838.7353276552722 Z" fill="#dc2433"/>
<text x="153.7" y="916" font-size="18.2" fill="#141414" stroke="#141414" stroke-width="0.25" text-anchor="middle" transform="matrix(1.03,0,0,1,-4.611,0)" >MB20-18</text>
<text x="222.6" y="916.3" font-size="18" fill="#141414" stroke="#141414" stroke-width="0.25" transform="matrix(1.03,0,0,1,-6.678,0)" >MB20-18:</text>
<text x="222.6" y="938.3" font-size="18" fill="#141414" stroke="#141414" stroke-width="0.25" transform="matrix(1.03,0,0,1,-6.678,0)" >anti-LFA-1</text>
<text x="343" y="916.3" font-size="18.4" fill="#141414" stroke="#141414" stroke-width="0.25" transform="matrix(1.03,0,0,1,-10.290,0)" >Leu16</text>
<defs><linearGradient id="cb" x1="0" y1="0" x2="0" y2="1"><stop offset="0" stop-color="#a82030"/><stop offset="0.025" stop-color="#e02a38"/><stop offset="0.08" stop-color="#ec4430"/><stop offset="0.125" stop-color="#f07a2c"/><stop offset="0.167" stop-color="#f4b02c"/><stop offset="0.2" stop-color="#f6ee30"/><stop offset="0.245" stop-color="#c4e040"/><stop offset="0.3" stop-color="#88c848"/><stop offset="0.4" stop-color="#6cbc4c"/><stop offset="0.54" stop-color="#64b670"/><stop offset="0.61" stop-color="#52b0a8"/><stop offset="0.7" stop-color="#3ab2e8"/><stop offset="0.77" stop-color="#3478c8"/><stop offset="0.85" stop-color="#3850a8"/><stop offset="0.95" stop-color="#4a48a0"/><stop offset="1" stop-color="#5a4aa0"/></linearGradient></defs>
<rect x="430.1" y="707.8" width="10" height="233.2" fill="#181818"/>
<rect x="432.6" y="709.8" width="5.4" height="229.4" fill="url(#cb)"/>
<line x1="440" y1="707.8" x2="440" y2="941" stroke="#000" stroke-width="2"/>
<line x1="439" y1="709.5" x2="449" y2="709.5" stroke="#000" stroke-width="2.6"/>
<line x1="439" y1="722.9" x2="445" y2="722.9" stroke="#000" stroke-width="2.6"/>
<line x1="439" y1="736.3" x2="445" y2="736.3" stroke="#000" stroke-width="2.6"/>
<line x1="439" y1="749.7" x2="445" y2="749.7" stroke="#000" stroke-width="2.6"/>
<line x1="439" y1="763.1" x2="445" y2="763.1" stroke="#000" stroke-width="2.6"/>
<line x1="439" y1="776.5" x2="449" y2="776.5" stroke="#000" stroke-width="2.6"/>
<line x1="439" y1="790.6" x2="445" y2="790.6" stroke="#000" stroke-width="2.6"/>
<line x1="439" y1="804.7" x2="445" y2="804.7" stroke="#000" stroke-width="2.6"/>
<line x1="439" y1="818.8" x2="445" y2="818.8" stroke="#000" stroke-width="2.6"/>
<line x1="439" y1="832.9" x2="445" y2="832.9" stroke="#000" stroke-width="2.6"/>
<line x1="439" y1="847" x2="449" y2="847" stroke="#000" stroke-width="2.6"/>
<line x1="439" y1="860.4" x2="445" y2="860.4" stroke="#000" stroke-width="2.6"/>
<line x1="439" y1="873.8" x2="445" y2="873.8" stroke="#000" stroke-width="2.6"/>
<line x1="439" y1="887.2" x2="445" y2="887.2" stroke="#000" stroke-width="2.6"/>
<line x1="439" y1="900.6" x2="445" y2="900.6" stroke="#000" stroke-width="2.6"/>
<line x1="439" y1="914" x2="449" y2="914" stroke="#000" stroke-width="2.6"/>
<text x="450.5" y="711.2" font-size="17.2" fill="#141414" stroke="#141414" stroke-width="0.25">2.0x10<tspan font-size="11" dy="-5.2">6</tspan></text>
<text x="447.6" y="726" font-size="10.2" fill="#141414" stroke="#141414" stroke-width="0.15" >p/sec/cm^2/sr</text>
<text x="450.8" y="778.3" font-size="16.6" fill="#141414" stroke="#141414" stroke-width="0.25" transform="matrix(1.06,0,0,1,-27.048,0)" >1.5</text>
<text x="450.8" y="849.5" font-size="16.6" fill="#141414" stroke="#141414" stroke-width="0.25" transform="matrix(1.06,0,0,1,-27.048,0)" >1.0</text>
<text x="450.8" y="916.3" font-size="16.6" fill="#141414" stroke="#141414" stroke-width="0.25" transform="matrix(1.06,0,0,1,-27.048,0)" >0.5</text>
<rect x="430.2" y="947.7" width="88.4" height="56" fill="none" stroke="#111" stroke-width="2.8"/>
<text x="436.8" y="961" font-size="12.2" fill="#141414" stroke="#141414" stroke-width="0.15" >Color Bar</text>
<text x="436.8" y="978.8" font-size="12.2" fill="#141414" stroke="#141414" stroke-width="0.15" >Min = 2.5E5</text>
<text x="436.8" y="996.4" font-size="12.2" fill="#141414" stroke="#141414" stroke-width="0.15" >Max = 3.0E6</text>
</svg></body></html>
